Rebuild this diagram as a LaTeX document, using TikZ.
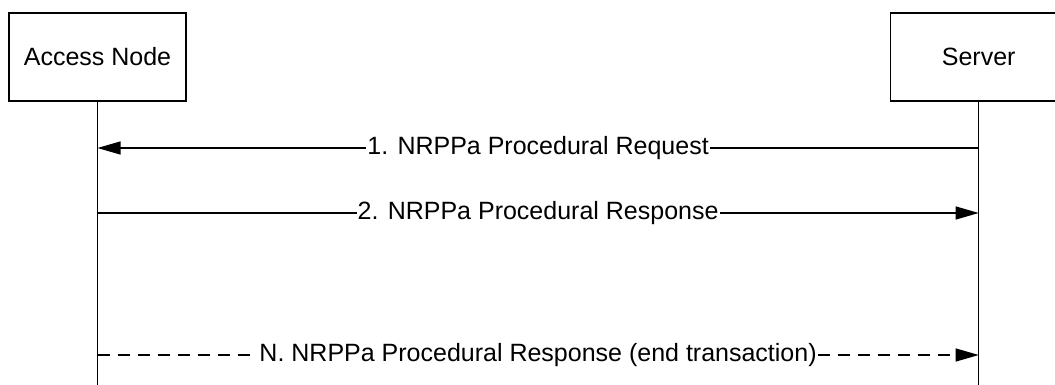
\documentclass[tikz,border=0pt]{standalone}
\usepackage{fontspec}
\setmainfont{Liberation Sans}
\usetikzlibrary{arrows.meta,positioning}
\tikzstyle{entity} = [rectangle, draw, minimum width=177pt, minimum height=88pt,
    inner sep=0pt]
\tikzstyle{msg} = [fill=white, inner sep=1pt]

\begin{document}
\begin{tikzpicture}[x=1pt,y=1pt,line width=1.2pt,>={Triangle[length=23pt,width=13pt]},
                    font=\fontsize{25}{30}\selectfont]
  \clip (0,0) rectangle (1055,-385);

  \node[entity]   (an)                      at (97.5,-57) {Access Node};
  \node[entity]   (srv) [right=703pt of an]               {Server};

  % lifelines
  \coordinate (anend)  at (an |- 0,-385);
  \coordinate (srvend) at (srv |- 0,-385);
  \draw (an.south) -- (anend);
  \draw (srv.south) -- (srvend);

  % message ends
  \coordinate (an1)  at (an |- 0,-148);
  \coordinate (srv1) at (srv |- 0,-148);
  \coordinate (an2)  at (an |- 0,-213);
  \coordinate (srv2) at (srv |- 0,-213);
  \coordinate (an3)  at (an |- 0,-355);
  \coordinate (srv3) at (srv |- 0,-355);

  \draw[->] (srv1) -- node[msg] {1. NRPPa Procedural Request} (an1);
  \draw[->] (an2) -- node[msg] {2. NRPPa Procedural Response} (srv2);
  \draw[->,dash pattern=on 12pt off 8pt] (an3) --
        node[msg] {N. NRPPa Procedural Response (end transaction)} (srv3);
\end{tikzpicture}
\end{document}
